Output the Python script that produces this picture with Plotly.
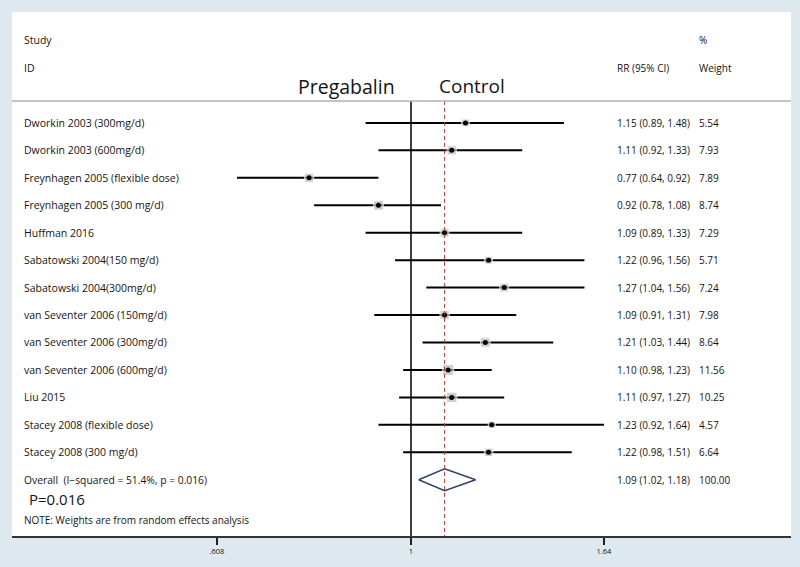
import math
import plotly.graph_objects as go

studies = [
    'Dworkin 2003 (300mg/d)', 'Dworkin 2003 (600mg/d)', 'Freynhagen 2005 (flexible dose)',
    'Freynhagen 2005 (300 mg/d)', 'Huffman 2016', 'Sabatowski 2004(150 mg/d)',
    'Sabatowski 2004(300mg/d)', 'van Seventer 2006 (150mg/d)', 'van Seventer 2006 (300mg/d)',
    'van Seventer 2006 (600mg/d)', 'Liu 2015', 'Stacey 2008 (flexible dose)', 'Stacey 2008 (300 mg/d)',
]
rr = [1.15, 1.11, 0.77, 0.92, 1.09, 1.22, 1.27, 1.09, 1.21, 1.10, 1.11, 1.23, 1.22]
lo = [0.89, 0.92, 0.64, 0.78, 0.89, 0.96, 1.04, 0.91, 1.03, 0.98, 0.97, 0.92, 0.98]
hi = [1.48, 1.33, 0.92, 1.08, 1.33, 1.56, 1.56, 1.31, 1.44, 1.23, 1.27, 1.64, 1.51]
weight = [5.54, 7.93, 7.89, 8.74, 7.29, 5.71, 7.24, 7.98, 8.64, 11.56, 10.25, 4.57, 6.64]

overall_label = 'Overall  (I\u2212squared = 51.4%, p = 0.016)'
overall = [1.09, 1.02, 1.18]
overall_weight = 100.00

tick_vals = [0.608, 1, 1.64]
tick_text = ['.608', '1', '1.64']

rows = list(range(1, len(studies) + 1))
row_overall = len(studies) + 1

FONT = 'Open Sans'
TXT = '#141414'
BG = '#dde9ee'

fig = go.Figure()

# confidence interval lines
xs, ys = [], []
for y, a, b in zip(rows, lo, hi):
    xs += [a, b, None]
    ys += [y, y, None]
fig.add_trace(go.Scatter(x=xs, y=ys, mode='lines', line=dict(color='black', width=2),
                         hoverinfo='skip', showlegend=False))

# weight boxes
fig.add_trace(go.Scatter(x=rr, y=rows, mode='markers',
                         marker=dict(symbol='square', color='#bdbdbd',
                                     size=[3.3 * math.sqrt(w) for w in weight]),
                         showlegend=False))
fig.add_trace(go.Scatter(x=rr, y=rows, mode='markers',
                         marker=dict(symbol='circle', color='black', size=5),
                         showlegend=False))

# overall diamond
h = 0.4
fig.add_trace(go.Scatter(
    x=[overall[1], overall[0], overall[2], overall[0], overall[1]],
    y=[row_overall, row_overall - h, row_overall, row_overall + h, row_overall],
    mode='lines', line=dict(color='#2f3f6f', width=1.5), showlegend=False))

# reference lines
fig.add_shape(type='line', x0=1, x1=1, y0=0.2, y1=16.05, xref='x', yref='y',
              line=dict(color='black', width=1.5))
fig.add_shape(type='line', x0=overall[0], x1=overall[0], y0=0.2, y1=16.05, xref='x', yref='y',
              line=dict(color='#b03a2e', width=1, dash='4px,3px'))
fig.add_shape(type='line', x0=0, x1=1, y0=0.2, y1=0.2, xref='paper', yref='y',
              line=dict(color='#b0b0b0', width=1.5))

x_lab = (22 - 12) / 779
x_rr = (615 - 12) / 779
x_w = (697 - 12) / 779

def txt(x, y, s, size=10.5, anchor='left', xref='paper'):
    fig.add_annotation(x=x, y=y, xref=xref, yref='y', text=s, showarrow=False,
                       xanchor=anchor, yanchor='middle',
                       font=dict(family=FONT, size=size, color=TXT))

txt(x_lab, -2.02, 'Study')
txt(x_lab, -1.0, 'ID')
txt(x_w, -2.02, '%', size=10)
txt(x_rr, -1.0, 'RR (95% CI)', size=10)
txt(x_w, -1.0, 'Weight', size=10)

for y, s, a, b, c, w in zip(rows, studies, rr, lo, hi, weight):
    txt(x_lab, y, s)
    txt(x_rr, y, f'{a:.2f} ({b:.2f}, {c:.2f})', size=10)
    txt(x_w, y, f'{w:.2f}', size=10)

txt(x_lab, row_overall, overall_label, size=10.3)
txt(x_rr, row_overall, f'{overall[0]:.2f} ({overall[1]:.2f}, {overall[2]:.2f})', size=10)
txt(x_w, row_overall, f'{overall_weight:.2f}', size=10)
txt((27 - 12) / 779, 14.72, 'P=0.016', size=15)
txt(x_lab, 15.47, 'NOTE: Weights are from random effects analysis', size=10)

txt((397 - 12) / 779, -0.33, 'Pregabalin', size=19.5, anchor='right')
txt((437 - 12) / 779, -0.33, 'Control', size=19)

# log axis mapped so that value 1 sits at x=411 px, 390 px per ln unit
ln10 = math.log(10)
x_range = [(12 - 411) / 390 / ln10, (791 - 411) / 390 / ln10]

fig.update_xaxes(type='log', range=x_range, tickvals=tick_vals, ticktext=tick_text,
                 ticks='outside', ticklen=7, tickwidth=1.5, tickcolor='#222',
                 showline=True, linecolor='#333', linewidth=2,
                 showgrid=False, zeroline=False,
                 tickfont=dict(family=FONT, size=7.5, color=TXT))
fig.update_yaxes(range=[16.05, -3.04], showticklabels=False, showgrid=False,
                 zeroline=False, showline=False)

fig.update_layout(
    width=800, height=567,
    margin=dict(l=12, r=9, t=12, b=31),
    paper_bgcolor=BG, plot_bgcolor='white',
    showlegend=False,
)

# drop the browser's default body margin so the figure sits at the page origin
fig.write_html('out.html', config={'displayModeBar': False},
               post_script=f"document.body.style.margin='0';document.body.style.background='{BG}';")
